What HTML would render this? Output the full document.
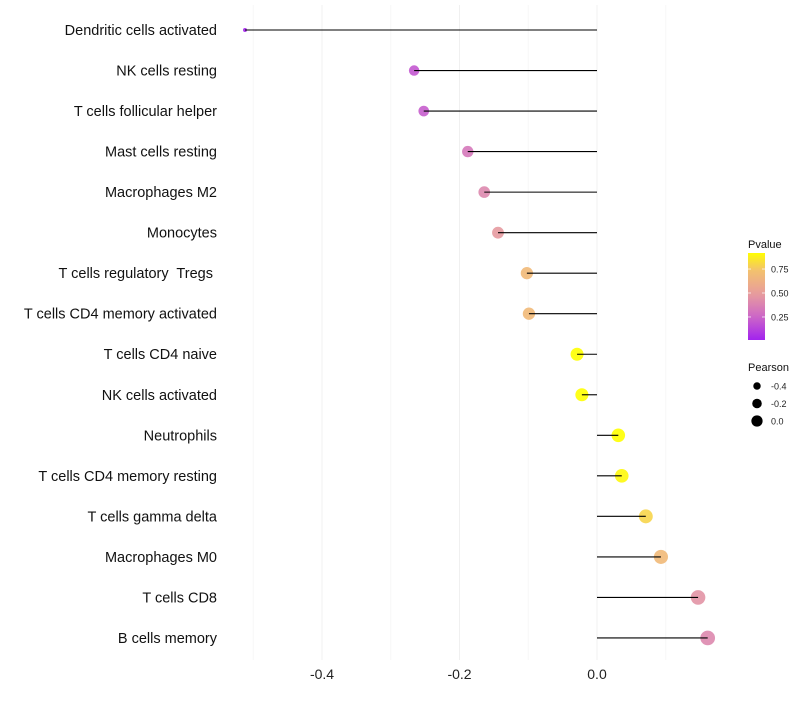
<!DOCTYPE html>
<html><head><meta charset="utf-8"><style>
body{margin:0;background:#fff;font-family:"Liberation Sans",sans-serif}
text{white-space:pre}
</style></head><body>
<svg id="c" width="800" height="700" xmlns="http://www.w3.org/2000/svg"></svg>
<script>
const categories=["Dendritic cells activated","NK cells resting","T cells follicular helper","Mast cells resting","Macrophages M2","Monocytes","T cells regulatory  Tregs ","T cells CD4 memory activated","T cells CD4 naive","NK cells activated","Neutrophils","T cells CD4 memory resting","T cells gamma delta","Macrophages M0","T cells CD8","B cells memory"];
const pearson=[-0.512,-0.266,-0.252,-0.188,-0.164,-0.144,-0.102,-0.099,-0.029,-0.022,0.031,0.036,0.071,0.093,0.147,0.161];
const pvalue=[0.02,0.2,0.22,0.33,0.4,0.48,0.68,0.68,0.93,0.95,0.92,0.9,0.8,0.68,0.45,0.4];
const xTicks=[-0.4,-0.2,0.0];
const xMinor=[-0.5,-0.3,-0.1,0.1];
const pTicks=[0.25,0.5,0.75];
const sizeTicks=[-0.4,-0.2,0.0];
const NS="http://www.w3.org/2000/svg";
const svg=document.getElementById('c');
const x=v=>597+v*687.5;
const y=i=>30+i*40.53;
const r=v=>{const s=44+62*v;return s<16?Math.max(1.8,Math.sqrt(s)-1.5):Math.sqrt(s);};
function col(p){
  const stops=[[0,[160,32,240]],[0.25,[204,102,200]],[0.5,[232,158,156]],[0.75,[244,196,106]],[0.92,[255,255,0]],[1,[255,255,0]]];
  for(let k=0;k<stops.length-1;k++){const[a,ca]=stops[k],[b,cb]=stops[k+1];
    if(p<=b){const t=(p-a)/(b-a);return `rgb(${ca.map((c,j)=>Math.round(c+(cb[j]-c)*t)).join(',')})`;}}
  return 'rgb(255,255,0)';
}
function el(t,a,txt){const e=document.createElementNS(NS,t);for(const k in a)e.setAttribute(k,a[k]);if(txt!==undefined)e.textContent=txt;svg.appendChild(e);return e;}
xMinor.forEach(v=>{const g=el('line',{x1:x(v),x2:x(v),y1:5,y2:660,stroke:'#f7f7f7','stroke-width':1});

});
xTicks.forEach(v=>{const g=el('line',{x1:x(v),x2:x(v),y1:5,y2:660,stroke:'#f0f0f0','stroke-width':1});


const t=el('text',{x:x(v),y:679,'text-anchor':'middle','font-size':14,fill:'#222'},v.toFixed(1));

});
categories.forEach((c,i)=>{
  const t=el('text',{x:217,y:y(i)+5,'text-anchor':'end','font-size':14.5,fill:'#111'},c);
  
  
  const p=el('circle',{cx:x(pearson[i]),cy:y(i),r:r(pearson[i]),fill:col(pvalue[i]),'fill-opacity':0.9});
  
  
  const l=el('line',{x1:x(0),x2:x(pearson[i]),y1:y(i),y2:y(i),stroke:'#000','stroke-width':1.1});
  
  
});
// legend
const lt=el('text',{x:748,y:248,'font-size':11,fill:'#111'},'Pvalue');


const defs=el('defs',{});
const lg=document.createElementNS(NS,'linearGradient');lg.setAttribute('id','g');lg.setAttribute('x1',0);lg.setAttribute('x2',0);lg.setAttribute('y1',1);lg.setAttribute('y2',0);defs.appendChild(lg);
for(let s=0;s<=10;s++){const st=document.createElementNS(NS,'stop');st.setAttribute('offset',s/10);st.setAttribute('stop-color',col(0.01+s/10*0.907));lg.appendChild(st);}
const cb=el('rect',{x:748,y:253,width:17,height:87,fill:'url(#g)'});


const py=p=>340-(p-0.01)/0.907*87;
pTicks.forEach(p=>{
  el('line',{x1:748,x2:751,y1:py(p),y2:py(p),stroke:'#fff','stroke-width':0.7});
  el('line',{x1:762,x2:765,y1:py(p),y2:py(p),stroke:'#fff','stroke-width':0.7});
  const t=el('text',{x:771,y:py(p)+3.5,'font-size':9,fill:'#222'},p.toFixed(2));
  
  
});
const st=el('text',{x:748,y:371,'font-size':11,fill:'#111'},'Pearson');


sizeTicks.forEach((v,k)=>{
  const c=el('circle',{cx:757,cy:386+k*17.5,r:r(v)*0.85,fill:'#000'});
  
  
  const t=el('text',{x:771,y:389.5+k*17.5,'font-size':9,fill:'#222'},v.toFixed(1));
  
  
});
</script>
</body></html>
